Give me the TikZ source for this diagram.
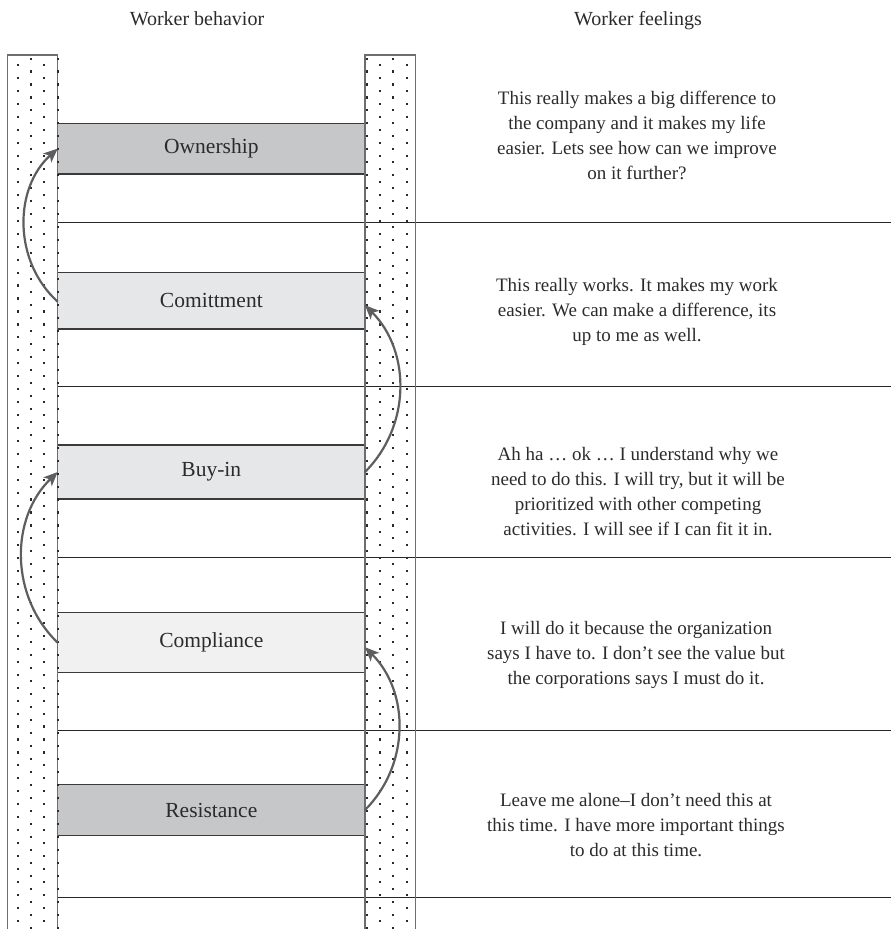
\documentclass[tikz,border=0pt]{standalone}
\usepackage{fontspec}
\setmainfont{Liberation Serif}
\usetikzlibrary{arrows.meta}

\definecolor{railline}{HTML}{6E6E6E}
\definecolor{dotc}{HTML}{2A2A2A}
\definecolor{boxline}{HTML}{3A3A3A}
\definecolor{darkbox}{HTML}{C6C7C9}
\definecolor{midbox}{HTML}{E6E7E8}
\definecolor{lightbox}{HTML}{F1F1F2}
\definecolor{arrowc}{HTML}{5E5E5E}
\definecolor{textc}{HTML}{2B2B2B}

\tikzset{
  stagebox/.style={draw=boxline, line width=1.2pt, minimum width=307.3pt,
    inner sep=0pt, outer sep=0pt, text=textc,
    font=\fontsize{21.5}{25}\selectfont},
  feeling/.style={align=center, text=textc, inner sep=0pt,
    font=\fontsize{19}{25}\selectfont},
  heading/.style={text=textc, inner sep=0pt, anchor=base,
    font=\fontsize{20}{24}\selectfont},
  rail/.style={draw=railline, line width=1.2pt},
  band/.style={draw=black!85, line width=1pt},
  climb/.style={draw=arrowc, line width=2.2pt,
    -{Stealth[length=14pt,width=12pt,inset=3.5pt]}},
  dot/.style={fill=dotc}
}

\begin{document}
\begin{tikzpicture}[x=1pt,y=-1pt]
\useasboundingbox (0,0) rectangle (891,929);
\begin{scope}
\clip (0,0) rectangle (891,929);

% the two dotted rails
\fill[white] (7.3,55) rectangle (57.7,940);
\fill[white] (365,55) rectangle (415.7,940);

% stages on the left
\node[stagebox, fill=darkbox,  minimum height=50.7pt] (own)  at (211.35,148.6) {Ownership};
\node[stagebox, fill=midbox,   minimum height=56.7pt] (comm) at (211.35,300.7) {Comittment};
\node[stagebox, fill=midbox,   minimum height=54pt]   (buy)  at (211.35,472)   {Buy-in};
\node[stagebox, fill=lightbox, minimum height=60pt]   (comp) at (211.35,642.7) {Compliance};
\node[stagebox, fill=darkbox,  minimum height=51.4pt] (res)  at (211.35,810)   {Resistance};

% horizontal separators
\coordinate (r) at (891,0);
\foreach \yy in {222,386,557,730,897}
  \draw[band] (57.7,\yy) -- (r |- 0,\yy);

% rail outlines
\draw[rail] (7.3,940) -- (7.3,55) -- (57.7,55) -- (57.7,940);
\draw[rail] (365,940) -- (365,55) -- (415.7,55) -- (415.7,940);

% dot pattern
\foreach \n in {0,...,67} {
  \foreach \xx in {31,57.7,366.7,393.3}
    \fill[dot] (\xx-1,58.5+12.97*\n-1) rectangle ++(2.1,2.1);
  \foreach \xx in {18.3,44.3,380,406.7}
    \fill[dot] (\xx-1,65+12.97*\n-1) rectangle ++(2.1,2.1);
}

% headings
\node[heading] (hb) at (197,25) {Worker behavior};
\node[heading] (hf) at (638,25) {Worker feelings};

% feelings
\node[feeling] (f1) at (637,135) {This really makes a big difference to\\the company and it makes my life\\easier. Lets see how can we improve\\on it further?};
\node[feeling] (f2) at (637,312) {This really works. It makes my work\\easier. We can make a difference, its\\up to me as well.};
\node[feeling] (f3) at (638,492) {Ah ha … ok … I understand why we\\need to do this. I will try, but it will be\\prioritized with other competing\\activities. I will see if I can fit it in.};
\node[feeling] (f4) at (636,655) {I will do it because the organization\\ says I have to. I don’t see the value but\\the corporations says I must do it.};
\node[feeling] (f5) at (636,825) {Leave me alone–I don’t need this at\\this time. I have more important things\\to do at this time.};

% progression arrows
\draw[climb] ([yshift=-1pt]comm.west) to[bend left=48] (own.west);
\draw[climb] (buy.east) to[bend right=45] ([yshift=-4.5pt]comm.east);
\draw[climb] (comp.west) to[bend left=46] (buy.west);
\draw[climb] (res.east) to[bend right=45] ([yshift=-4.5pt]comp.east);
\end{scope}
\end{tikzpicture}
\end{document}
